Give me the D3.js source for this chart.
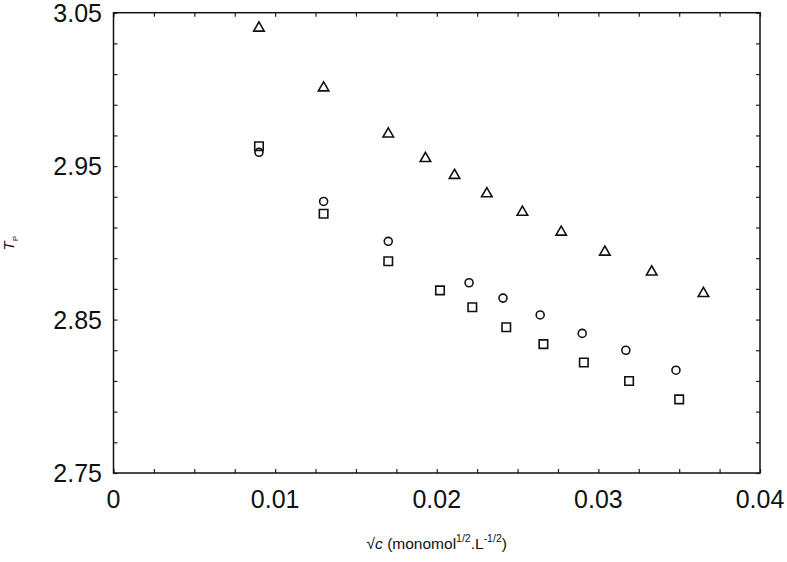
<!DOCTYPE html>
<html>
<head>
<meta charset="utf-8">
<title>Tp vs sqrt c</title>
<script src="https://cdn.jsdelivr.net/npm/d3@7"></script>
<style>
  body { margin: 0; background: #fff; }
  svg text { font-family: "Liberation Sans", Arial, sans-serif; fill: #111; }
</style>
</head>
<body>
<svg id="chart" width="787" height="562"></svg>
<script>
// data
var triX = [0.0090, 0.0130, 0.0170, 0.0193, 0.0211, 0.0231, 0.0253, 0.0277, 0.0304, 0.0333, 0.0365];
var triY = [3.040, 3.001, 2.971, 2.955, 2.944, 2.932, 2.920, 2.907, 2.894, 2.881, 2.867];

var cirX = [0.0090, 0.0130, 0.0170, 0.0220, 0.0241, 0.0264, 0.0290, 0.0317, 0.0348];
var cirY = [2.959, 2.927, 2.901, 2.874, 2.864, 2.853, 2.841, 2.830, 2.817];

var sqX = [0.0090, 0.0130, 0.0170, 0.0202, 0.0222, 0.0243, 0.0266, 0.0291, 0.0319, 0.0350];
var sqY = [2.963, 2.919, 2.888, 2.869, 2.858, 2.845, 2.834, 2.822, 2.810, 2.798];

var xLabels = [0, 0.01, 0.02, 0.03, 0.04];
var yLabels = [2.75, 2.85, 2.95, 3.05];

var svg = d3.select("#chart");
var pLeft = 113.5, pRight = 760, pTop = 12.7, pBottom = 473;

var x = d3.scaleLinear().domain([0, 0.04]).range([pLeft, pRight]);
var y = d3.scaleLinear().domain([2.75, 3.05]).range([pBottom, pTop]);

var xMinor = d3.range(0, 0.04001, 0.0025);
var yMinor = d3.range(2.75, 3.05001, 0.02);

// inward ticks on all four sides
function ticks(g) {
  g.selectAll("path").remove();
  g.selectAll("line").attr("stroke", "#222").attr("stroke-width", 1.2);
  g.selectAll("text").remove();
}
svg.append("g").attr("transform", "translate(0," + pBottom + ")")
  .call(d3.axisBottom(x).tickValues(xMinor).tickSize(-4)).call(ticks);
svg.append("g").attr("transform", "translate(0," + pTop + ")")
  .call(d3.axisTop(x).tickValues(xMinor).tickSize(-4)).call(ticks);
svg.append("g").attr("transform", "translate(" + pLeft + ",0)")
  .call(d3.axisLeft(y).tickValues(yMinor).tickSize(-4)).call(ticks);
svg.append("g").attr("transform", "translate(" + pRight + ",0)")
  .call(d3.axisRight(y).tickValues(yMinor).tickSize(-4)).call(ticks);

// frame
svg.append("rect")
  .attr("x", pLeft).attr("y", pTop)
  .attr("width", pRight - pLeft).attr("height", pBottom - pTop)
  .attr("fill", "none").attr("stroke", "#111").attr("stroke-width", 1.5);

// tick labels
svg.selectAll(".xl").data(xLabels).enter().append("text")
  .attr("x", function(d) { return x(d); })
  .attr("y", 508)
  .attr("text-anchor", "middle")
  .attr("font-size", 25)
  .text(function(d) { return d === 0 ? "0" : d.toFixed(2); });

svg.selectAll(".yl").data(yLabels).enter().append("text")
  .attr("x", 102)
  .attr("y", function(d) { return y(d) + 9; })
  .attr("text-anchor", "end")
  .attr("font-size", 25)
  .text(function(d) { return d.toFixed(2); });

// axis titles
var xt = svg.append("text")
  .attr("x", (pLeft + pRight) / 2)
  .attr("y", 549)
  .attr("text-anchor", "middle")
  .attr("font-size", 15.5);
xt.append("tspan").text("\u221A");
xt.append("tspan").attr("font-style", "italic").text("c");
xt.append("tspan").text(" (monomol");
xt.append("tspan").attr("font-size", 10.5).attr("dy", -7).text("1/2");
xt.append("tspan").attr("dy", 7).text(".L");
xt.append("tspan").attr("font-size", 10.5).attr("dy", -7).text("-1/2");
xt.append("tspan").attr("dy", 7).text(")");

var yt = svg.append("text")
  .attr("transform", "translate(14,250.5) rotate(-90)")
  .attr("text-anchor", "start")
  .attr("font-size", 15);
yt.append("tspan").attr("font-style", "italic").text("T");
yt.append("tspan").attr("font-size", 8).attr("dy", 4).text("P");

// markers
function drawSeries(xs, ys, type, size) {
  var sym = d3.symbol().type(type).size(size);
  svg.append("g").selectAll("path")
    .data(xs.map(function(d, i) { return [d, ys[i]]; }))
    .enter().append("path")
    .attr("d", sym)
    .attr("transform", function(d) { return "translate(" + x(d[0]) + "," + y(d[1]) + ")"; })
    .attr("fill", "none")
    .attr("stroke", "#111")
    .attr("stroke-width", 1.6);
}
drawSeries(triX, triY, d3.symbolTriangle, 48);
drawSeries(cirX, cirY, d3.symbolCircle, 50);
drawSeries(sqX, sqY, d3.symbolSquare, 72);
</script>
</body>
</html>
